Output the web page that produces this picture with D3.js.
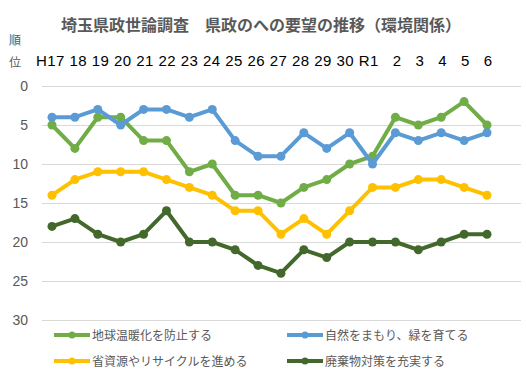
<!DOCTYPE html>
<html>
<head>
<meta charset="utf-8">
<script src="https://cdn.jsdelivr.net/npm/d3@7"></script>
<style>
  body { margin: 0; background: #fff; }
  svg { display: block; }
</style>
</head>
<body>
<div id="chart"></div>
<script>
// Survey years (Heisei 17 .. Reiwa 6)
const years = ["H17", "18", "19", "20", "21", "22", "23", "24", "25", "26",
               "27", "28", "29", "30", "R1", "2", "3", "4", "5", "6"];

// Rank of each request per year (1 = top)
const globalWarming = [5, 8, 4, 4, 7, 7, 11, 10, 14, 14, 15, 13, 12, 10, 9, 4, 5, 4, 2, 5];
const nature        = [4, 4, 3, 5, 3, 3, 4, 3, 7, 9, 9, 6, 8, 6, 10, 6, 7, 6, 7, 6];
const recycling     = [14, 12, 11, 11, 11, 12, 13, 14, 16, 16, 19, 17, 19, 16, 13, 13, 12, 12, 13, 14];
const waste         = [18, 17, 19, 20, 19, 16, 20, 20, 21, 23, 24, 21, 22, 20, 20, 20, 21, 20, 19, 19];

const yTicks = [0, 5, 10, 15, 20, 25, 30];

const seriesNames = ["地球温暖化を防止する", "自然をまもり、緑を育てる",
                     "省資源やリサイクルを進める", "廃棄物対策を充実する"];
const seriesColors = ["#70AD47", "#5B9BD5", "#FFC000", "#43682B"];

const series = [globalWarming, nature, recycling, waste].map((values, i) => ({
    name: seriesNames[i],
    color: seriesColors[i],
    values: values
}));

const width = 526, height = 388;
const textColor = "#595959";
const font = "'Liberation Sans', 'Noto Sans CJK JP', sans-serif";

const svg = d3.select("#chart").append("svg")
    .attr("width", width)
    .attr("height", height)
    .style("font-family", font);

// Title
svg.append("text")
    .attr("x", 261)
    .attr("y", 31)
    .attr("text-anchor", "middle")
    .style("font-family", "'Noto Sans CJK JP', sans-serif")
    .style("font-size", "16px")
    .style("font-weight", "bold")
    .attr("fill", textColor)
    .text("埼玉県政世論調査　県政のへの要望の推移（環境関係）");

// Scales
const x = d3.scalePoint()
    .domain(years)
    .range([52, 487]);

const y = d3.scaleLinear()
    .domain([0, 30])
    .range([86, 320]);

// Gridlines
svg.append("g")
    .selectAll("line")
    .data(yTicks)
    .enter().append("line")
    .attr("x1", 42)
    .attr("x2", 521)
    .attr("y1", d => y(d) + 0.5)
    .attr("y2", d => y(d) + 0.5)
    .attr("stroke", "#d9d9d9")
    .attr("stroke-width", 1);

// Y axis labels
const yAxis = svg.append("g")
    .attr("transform", "translate(34,0)")
    .call(d3.axisLeft(y).tickValues(yTicks).tickSize(0).tickPadding(6));
yAxis.select(".domain").remove();
yAxis.selectAll("text")
    .style("font-family", font)
    .style("font-size", "14px")
    .attr("fill", textColor);

// Axis unit "順位", written vertically
svg.append("text")
    .attr("x", 15).attr("y", 45)
    .attr("text-anchor", "middle")
    .style("font-family", "'Noto Sans CJK JP', sans-serif")
    .style("font-size", "12px")
    .attr("fill", textColor)
    .text("順");
svg.append("text")
    .attr("x", 15).attr("y", 67)
    .attr("text-anchor", "middle")
    .style("font-family", "'Noto Sans CJK JP', sans-serif")
    .style("font-size", "12px")
    .attr("fill", textColor)
    .text("位");

// Year labels: in the original they are one typed line of text above the plot
const yearLine = years.slice(0, 15).join(" ") + "   " + years.slice(15).join("   ");
svg.append("text")
    .attr("x", 36)
    .attr("y", 66)
    .attr("xml:space", "preserve")
    .style("white-space", "pre")
    .attr("textLength", 456)
    .attr("lengthAdjust", "spacing")
    .style("font-size", "15px")
    .attr("fill", "#000")
    .text(yearLine);

// Lines and markers
const line = d3.line()
    .x((d, i) => x(years[i]))
    .y(d => y(d));

const groups = svg.selectAll(".series")
    .data(series)
    .enter().append("g")
    .attr("class", "series");

groups.append("path")
    .attr("d", d => line(d.values))
    .attr("fill", "none")
    .attr("stroke", d => d.color)
    .attr("stroke-width", 4)
    .attr("stroke-linejoin", "round");

groups.selectAll("circle")
    .data(d => d.values.map((v, i) => ({ v: v, i: i, color: d.color })))
    .enter().append("circle")
    .attr("cx", d => x(years[d.i]))
    .attr("cy", d => y(d.v))
    .attr("r", 4.5)
    .attr("fill", d => d.color);

// Legend
const legendPos = [[54, 335], [287, 335], [54, 361], [287, 361]];
const legend = svg.selectAll(".legend")
    .data(series)
    .enter().append("g")
    .attr("class", "legend")
    .attr("transform", (d, i) => `translate(${legendPos[i][0]},${legendPos[i][1]})`);

legend.append("line")
    .attr("x1", 0).attr("x2", 36)
    .attr("y1", 0).attr("y2", 0)
    .attr("stroke", d => d.color)
    .attr("stroke-width", 4);
legend.append("circle")
    .attr("cx", 18).attr("cy", 0)
    .attr("r", 3.5)
    .attr("fill", d => d.color);
legend.append("text")
    .attr("x", 38)
    .attr("y", 4.5)
    .style("font-family", "'Noto Sans CJK JP', sans-serif")
    .style("font-size", "12px")
    .attr("fill", textColor)
    .text(d => d.name);
</script>
</body>
</html>
